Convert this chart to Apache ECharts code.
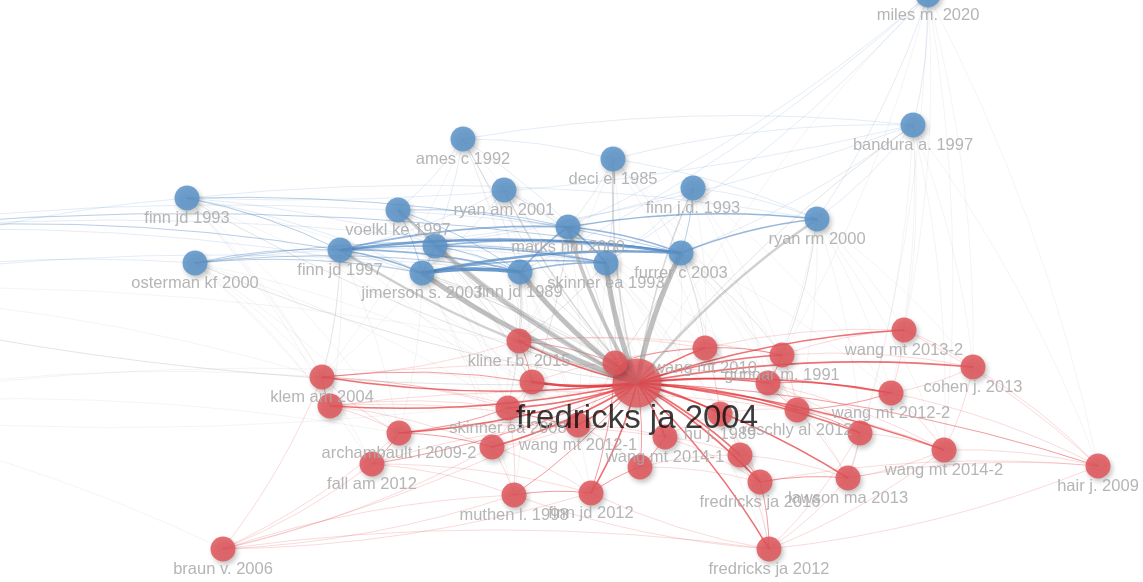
<!DOCTYPE html>
<html>
<head>
<meta charset="utf-8">
<script src="https://cdn.jsdelivr.net/npm/echarts@6/dist/echarts.min.js"></script>
<style>
html,body{margin:0;padding:0;background:#fff;}
#chart{width:1143px;height:582px;}
</style>
</head>
<body>
<div id="chart"></div>
<script>
// ---- data ----
const nodeNames = [
  'ames c 1992','deci el 1985','bandura a. 1997','finn jd 1993','ryan am 2001',
  'finn j.d. 1993','voelkl ke 1997','ryan rm 2000','marks hm 2000','finn jd 1997',
  'connell jp 1994','furrer c 2003','osterman kf 2000','jimerson s. 2003','finn jd 1989',
  'skinner ea 1993','miles m. 2020',
  'fredricks ja 2004','kline r.b. 2015','wang mt 2011','appleton jj 2008','klem am 2004',
  'appleton jj 2006','skinner ea 2008','archambault i 2009-2','fall am 2012','wang mt 2012-1',
  'archambault i 2009-1','wang mt 2014-1','wang mt 2013-1','hu j. 1989','reschly al 2012',
  'wang mt 2012-2','cohen j. 2013','wang mt 2013-2','li y 2010','wang mt 2014-2',
  'hair j. 2009','fredricks ja 2016','lawson ma 2013','fredricks ja 2011','muthen l. 1998',
  'finn jd 2012','fredricks ja 2012','braun v. 2006','gunnar m. 1991','wang mt 2010',
  'skinner ea 2009','newmann fm 1992','connell jp 1991','christenson sl 2012'
];
const nodeX = [
  463,613,913,187,504, 693,398,817,568,340, 435,681,195,422,520, 606,928,
  637,519,615,532,322, 330,508,399,372,578, 492,665,640,720,797, 891,973,904,860,944,
  1098,760,848,740,514, 591,769,223,782,705, 768,-190,-230,-210
];
const nodeY = [
  139,159,125,198,190, 188,210,219,227,250, 246,253,263,273,272, 263,-5,
  383,341,363,382,377, 406,408,433,464,425, 447,437,467,414,410, 393,367,330,433,450,
  466,482,478,455,495, 493,549,549,355,348, 383,236,292,410
];
const nodeCluster = [
  2,2,2,2,2, 2,2,2,2,2, 2,2,2,2,2, 2,2,
  1,1,1,1,1, 1,1,1,1,1, 1,1,1,1,1, 1,1,1,1,1,
  1,1,1,1,1, 1,1,1,1,1, 1,2,2,2
];
const nodeSize = [
  25,25,25,25,25, 25,25,25,25,25, 25,25,25,25,25, 25,25,
  49,25,25,25,25, 25,25,25,25,25, 25,25,25,25,25, 25,25,25,25,25,
  25,25,25,25,25, 25,25,25,25,25, 25,25,25,25
];
const labelShown = [
  1,1,1,1,1, 1,1,1,1,1, 0,1,1,1,1, 1,1,
  1,1,0,0,1, 0,1,1,1,1, 0,1,0,1,1, 1,1,1,0,1,
  1,1,1,0,1, 1,1,1,1,1, 0,0,0,0
];
// links: [source, target, strength]
const linkList = [
  // fredricks ja 2004 hub (red)
  [17,18,3],[17,19,4],[17,20,4],[17,21,3],[17,22,3],[17,23,3],[17,24,3],[17,25,2],[17,26,3],
  [17,27,3],[17,28,3],[17,29,2],[17,30,3],[17,31,3],[17,32,3],[17,33,3],[17,34,3],[17,35,3],
  [17,36,3],[17,37,2],[17,38,3],[17,39,3],[17,40,3],[17,41,2],[17,42,3],[17,43,3],[17,44,1],
  [17,45,3],[17,46,3],[17,47,3],
  // fredricks ja 2004 to blue cluster (grey)
  [17,13,6],[17,14,6],[17,15,6],[17,8,5],[17,11,6],[17,9,4],[17,6,4],[17,10,5],[17,3,2],
  [17,12,2],[17,7,4],[17,1,3],[17,5,3],[17,4,3],[17,0,2],[17,2,2],[17,16,1],[17,49,2],[17,50,1],
  // blue cluster
  [9,11,4],[9,13,3],[9,14,3],[9,8,3],[9,15,3],[13,14,5],[13,15,3],[13,11,4],[14,15,3],
  [14,8,3],[8,15,3],[8,11,3],[8,7,3],[11,7,3],[10,11,3],[10,15,2],[10,14,2],[10,13,2],
  [6,13,2],[6,14,2],[6,10,2],[6,8,2],[3,9,2],[3,13,1],[3,14,1],[3,11,2],[3,7,1],[12,9,2],
  [12,13,2],[12,14,2],[12,11,2],[12,15,1],[0,6,1],[0,14,1],[0,13,1],[0,15,1],[0,1,1],[0,2,1],
  [1,15,1],[1,8,1],[1,2,1],[1,11,1],[1,7,1],[4,13,1],[4,15,1],[4,8,1],[4,9,1],[5,11,2],
  [5,15,1],[5,7,1],[5,9,1],[2,7,1],[2,11,1],[2,9,1],[2,3,1],[16,7,1],[16,15,1],[16,2,1],
  [16,8,1],[16,14,1],[48,9,2],[48,13,1],[48,11,2],[48,15,1],[48,8,1],[49,14,1],[49,12,1],[49,3,1],
  // blue to red (grey)
  [13,18,2],[14,18,2],[15,18,2],[11,46,2],[11,45,2],[8,19,2],[13,21,1],[9,21,2],[3,21,1],
  [12,21,1],[12,22,1],[14,23,2],[15,26,1],[11,31,1],[7,45,2],[7,34,1],[7,33,1],[2,33,1],
  [2,37,1],[2,36,1],[16,37,1],[16,33,1],[11,32,1],[15,28,1],[8,20,2],[13,24,1],[9,24,1],
  [14,27,1],[15,38,1],[11,39,1],[13,42,1],[14,41,1],[1,18,1],[5,46,1],[5,32,1],[3,22,1],
  [6,18,1],[10,20,2],[10,23,1],[0,18,1],[4,20,1],[1,45,1],[7,47,1],[49,21,1],[49,19,1],
  [50,21,1],[50,24,1],[50,20,1],[50,44,1],[3,19,1],[12,20,1],[9,19,2],[6,19,1],[13,19,2],
  [14,19,2],[15,19,2],[11,19,2],[8,18,1],[11,47,1],[7,32,1],[2,34,1],[16,34,1],
  [3,24,1],[3,26,1],[12,24,1],[12,23,1],[9,23,1],[9,26,1],[6,20,1],[6,23,1],[0,20,1],
  [0,19,1],[4,19,1],[4,46,1],[1,19,1],[1,46,1],[5,45,1],[5,47,1],[7,31,1],[7,35,1],
  [7,36,1],[2,32,1],[2,39,1],[16,36,1],[16,39,1],[11,28,1],[11,30,1],[15,30,1],[15,29,1],
  [8,26,1],[8,28,1],[14,26,1],[14,42,1],[13,41,1],[13,27,1],[10,18,1],[10,26,1],[9,22,1],
  [12,25,1],[3,25,1],[15,43,1],[11,43,1],[8,38,1],[4,31,1],[0,21,1],[1,31,1],[16,45,1],
  // red cluster
  [18,20,2],[18,19,2],[19,46,2],[46,45,2],[45,47,2],[45,34,1],[34,33,1],[33,32,1],[32,31,2],
  [31,47,1],[31,35,2],[35,36,1],[36,37,1],[32,37,1],[33,37,1],[39,37,1],[38,39,2],[38,43,2],
  [39,43,1],[40,38,2],[30,40,1],[28,29,2],[28,30,1],[26,23,2],[26,27,1],[27,41,1],[27,42,1],
  [23,41,1],[24,25,2],[24,21,1],[22,21,2],[22,24,1],[25,44,1],[24,44,1],[21,44,1],[41,42,2],
  [42,29,2],[29,40,1],[43,41,1],[43,42,1],[23,24,2],[20,23,1],[21,20,2],[22,23,1],[26,28,1],
  [31,36,1],[47,32,2],[46,30,1],[36,39,1],[35,39,1],[34,32,1],[45,31,1],[19,26,1],[18,21,1],
  [26,29,1],[28,40,1],[41,44,1],[42,44,1],[27,44,1],[40,43,1],[19,42,2],[20,27,1],[22,27,1],
  [25,41,1],[24,27,2],[30,38,1],[35,43,1],[36,43,1],[47,35,1],[46,31,1],[19,38,1],[21,23,1],
  [21,26,1],[22,26,1],[24,26,1],[25,26,1],[21,32,1],[22,31,1],[24,28,1],[25,42,1],[18,46,1],
  [18,45,1],[20,46,1],[46,34,1],[45,33,1],[47,36,1],[31,39,1],[32,36,1],[33,36,1],[34,37,1],
  [38,37,1],[40,39,1],[29,38,1],[28,38,1],[30,31,1],[47,31,1],[37,43,1],[44,41,1],[44,43,1]
];

// ---- styling helpers ----
const RED = '#e1555a', BLUE = '#5b93c8';
function linkColor(a, b, w) {
  const ca = nodeCluster[a], cb = nodeCluster[b];
  if (ca === 1 && cb === 1) return 'rgba(228,45,50,' + Math.min(0.85, 0.17 + 0.17 * w) + ')';
  if (ca === 2 && cb === 2) return 'rgba(80,135,195,' + Math.min(0.85, 0.15 + 0.15 * w) + ')';
  return 'rgba(150,150,150,' + Math.min(0.6, 0.12 + 0.08 * w) + ')';
}

const nodes = nodeNames.map((n, i) => {
  const big = nodeSize[i] > 30;
  return {
    name: n,
    value: [nodeX[i], nodeY[i]],
    symbolSize: nodeSize[i],
    itemStyle: {
      color: nodeCluster[i] === 1 ? RED : BLUE,
      opacity: big ? 0.8 : 0.85,
      shadowBlur: 5,
      shadowColor: 'rgba(0,0,0,0.28)',
      shadowOffsetX: 2,
      shadowOffsetY: 3
    },
    label: {
      show: !!labelShown[i],
      position: 'bottom',
      distance: big ? -5 : -1,
      color: big ? '#0a0a0a' : '#a8a8a8',
      fontSize: big ? 33 : 16.5,
      fontFamily: 'Liberation Sans, Arial, sans-serif'
    }
  };
});

const links = linkList
  .slice()
  .sort((p, q) => p[2] - q[2])
  .map(([s, t, w]) => ({
    source: s,
    target: t,
    lineStyle: {
      color: linkColor(s, t, w),
      width: 0.4 + 0.13 * w * w,
      curveness: 0.07,
      opacity: 1
    }
  }));

const chart = echarts.init(document.getElementById('chart'), null, {renderer: 'canvas'});
chart.setOption({
  backgroundColor: '#fff',
  animation: false,
  grid: {left: 0, right: 0, top: 0, bottom: 0},
  xAxis: {type: 'value', min: 0, max: 1143, show: false},
  yAxis: {type: 'value', min: 0, max: 582, inverse: true, show: false},
  series: [{
    type: 'graph',
    coordinateSystem: 'cartesian2d',
    layout: 'none',
    symbol: 'circle',
    data: nodes,
    links: links,
    labelLayout: {hideOverlap: false},
    emphasis: {disabled: true}
  }]
});
</script>
</body>
</html>
